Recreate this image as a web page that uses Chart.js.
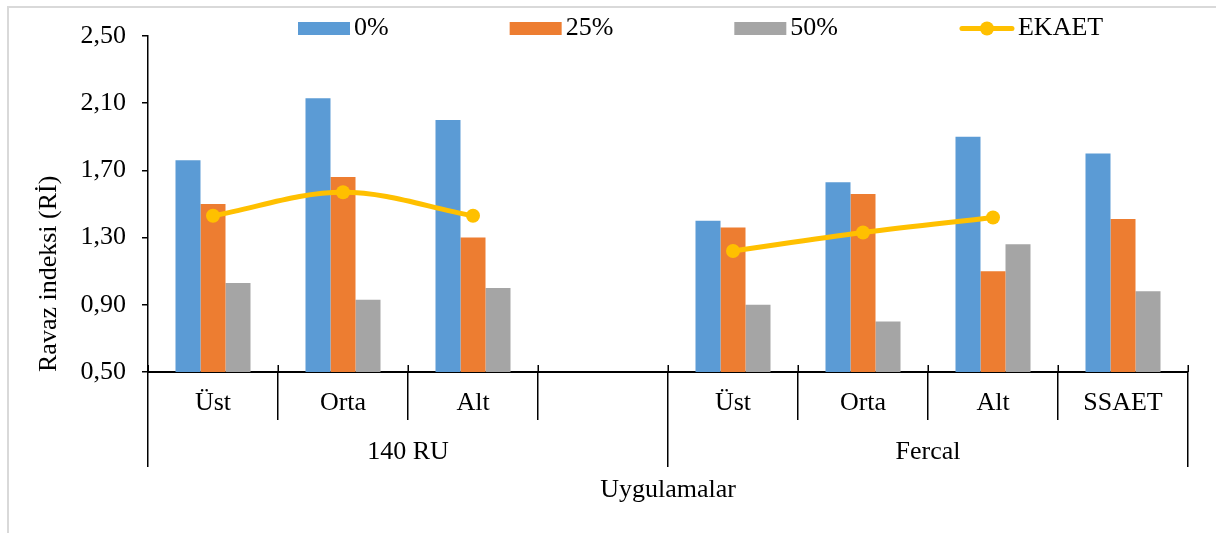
<!DOCTYPE html>
<html><head><meta charset="utf-8">
<script src="https://cdn.jsdelivr.net/npm/chart.js@4/dist/chart.umd.min.js"></script>
<style>html,body{margin:0;padding:0;background:#fff;} #wrap{position:relative;width:1216px;height:533px;}</style>
</head><body><div id="wrap"><canvas id="c" width="1216" height="533"></canvas></div>
<script>
const categories = ['Üst','Orta','Alt','','Üst','Orta','Alt','SSAET'];
const groups = ['140 RU','Fercal'];
const seriesNames = ['0%','25%','50%','EKAET'];
const v0 = [1.76,2.13,2.00,null,1.40,1.63,1.90,1.80];
const v25 = [1.50,1.66,1.30,null,1.36,1.56,1.10,1.41];
const v50 = [1.03,0.93,1.00,null,0.90,0.80,1.26,0.98];
const ekaet = [1.43,1.57,1.43,null,1.22,1.33,1.42,null];
const yTicks = [0.5,0.9,1.3,1.7,2.1,2.5];
const yTitle = 'Ravaz indeksi (Rİ)';
const xTitle = 'Uygulamalar';

const FONT = {family:'"Liberation Serif", "Times New Roman", serif', size:26};
const colors = ['#5B9BD5','#ED7D31','#A5A5A5','#FFC000'];

const framePlugin = {
  id:'frame',
  beforeDraw(chart){
    const ctx = chart.ctx;
    ctx.save();
    ctx.fillStyle = '#fff';
    ctx.fillRect(0,0,chart.width,chart.height);
    ctx.fillStyle = '#d9d9d9';
    ctx.fillRect(7,6,chart.width-7,2);
    ctx.fillRect(7,6,2,chart.height-6);
    ctx.restore();
  },
  afterDraw(chart){
    // short stubs of the category separators crossing the axis line
    const sc = chart.scales.x, ctx = chart.ctx;
    const n = sc.getLabels().length;
    const w = (sc.right - sc.left) / n;
    ctx.save();
    ctx.strokeStyle = '#000';
    ctx.lineWidth = 1.5;
    for (let i = 0; i <= n; i++) {
      const px = Math.round(sc.left + i * w) + 0.25;
      ctx.beginPath(); ctx.moveTo(px, sc.top - 7); ctx.lineTo(px, sc.top); ctx.stroke();
    }
    ctx.restore();
  }
};

const legendPlugin = {
  id:'customLegend',
  afterDraw(chart){
    const ctx = chart.ctx;
    ctx.save();
    ctx.font = FONT.size + 'px ' + FONT.family;
    ctx.textBaseline = 'middle';
    ctx.textAlign = 'left';
    let x = 298;
    const y = 28.5;
    chart.data.datasets.forEach(ds => {
      let tx;
      if (ds.type === 'line') {
        ctx.strokeStyle = ds.borderColor;
        ctx.lineWidth = 5;
        ctx.lineCap = 'round';
        ctx.beginPath(); ctx.moveTo(x+3,y); ctx.lineTo(x+53,y); ctx.stroke();
        ctx.fillStyle = ds.borderColor;
        ctx.beginPath(); ctx.arc(x+28,y,7,0,Math.PI*2); ctx.fill();
        tx = x + 59;
      } else {
        ctx.fillStyle = ds.backgroundColor;
        ctx.fillRect(x, y-6.5, 52, 13);
        tx = x + 56;
      }
      ctx.fillStyle = '#000';
      ctx.fillText(ds.label, tx, y);
      x = tx + ctx.measureText(ds.label).width + 121;
    });
    ctx.restore();
  }
};

const barCommon = {type:'bar', categoryPercentage:0.577, barPercentage:1.0, borderWidth:0, order:2};

new Chart(document.getElementById('c'), {
  data:{
    labels: categories,
    datasets:[
      Object.assign({label:seriesNames[0], data:v0, backgroundColor:colors[0]}, barCommon),
      Object.assign({label:seriesNames[1], data:v25, backgroundColor:colors[1]}, barCommon),
      Object.assign({label:seriesNames[2], data:v50, backgroundColor:colors[2]}, barCommon),
      {type:'line', label:seriesNames[3], data:ekaet, borderColor:colors[3], backgroundColor:colors[3],
       borderWidth:5, pointRadius:7, pointHoverRadius:7, pointBackgroundColor:colors[3], pointBorderWidth:0,
       tension:0.35, spanGaps:false, order:1}
    ]
  },
  options:{
    responsive:false,
    animation:false,
    layout:{padding:{top:36, right:28, left:0, bottom:0}},
    plugins:{legend:{display:false}, tooltip:{enabled:false}},
    scales:{
      x:{
        type:'category', position:'bottom', weight:0, offset:true,
        grid:{display:true, offset:true, drawOnChartArea:false, drawTicks:true, tickLength:48, color:'#000', lineWidth:1.5},
        border:{display:true, color:'#000', width:2},
        ticks:{font:FONT, color:'#000', padding:-32, autoSkip:false, maxRotation:0, minRotation:0},
        afterFit: s => { s.height = 48; }
      },
      x2:{
        type:'category', labels:groups, position:'bottom', weight:1, offset:true,
        grid:{display:true, offset:true, drawOnChartArea:false, drawTicks:true, tickLength:47, color:'#000', lineWidth:1.5},
        border:{display:false},
        ticks:{font:FONT, color:'#000', padding:-30, autoSkip:false, maxRotation:0, minRotation:0},
        title:{display:true, text:xTitle, font:FONT, color:'#000', padding:27},
        afterFit: s => { s.height = 113; }
      },
      y:{
        type:'linear', position:'left', min:0.5, max:2.5,
        afterBuildTicks: s => { s.ticks = yTicks.map(v => ({value:v})); },
        ticks:{font:FONT, color:'#000', padding:16, callback: v => Number(v).toFixed(2).replace('.', ',')},
        grid:{display:true, drawOnChartArea:false, drawTicks:true, tickLength:6, color:'#000', lineWidth:1.5},
        border:{display:true, color:'#000', width:1.5},
        title:{display:true, text:yTitle, font:FONT, color:'#000', align:'start', padding:34},
        afterFit: s => { s.width = 148; }
      }
    }
  },
  plugins:[framePlugin, legendPlugin]
});
</script>
</body></html>
